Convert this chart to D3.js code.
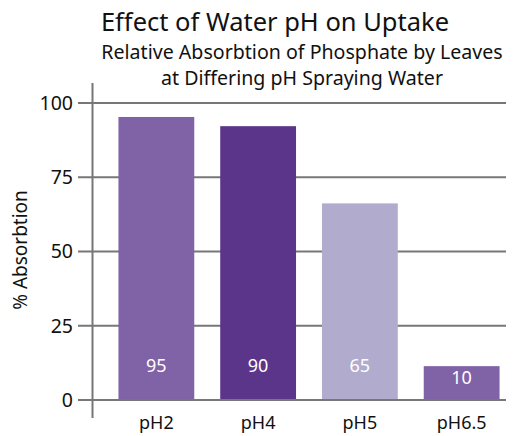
<!DOCTYPE html>
<html>
<head>
<meta charset="utf-8">
<script src="https://cdn.jsdelivr.net/npm/d3@7"></script>
<style>
  html, body { margin: 0; padding: 0; background: #fff; }
  text { font-family: 'Noto Sans', 'Open Sans', sans-serif; }
</style>
</head>
<body>
<div id="chart"></div>
<script>
const categories = ['pH2', 'pH4', 'pH5', 'pH6.5']
// bar heights as drawn, and the numbers printed inside them
const barValues = [95.3, 92.2, 66.2, 11.4]
const labelValues = [95, 90, 65, 10]
const yTicks = [0, 25, 50, 75, 100]
const colors = ['#8062a7', '#5b3589', '#b1abce', '#8062a7']

const width = 513
const height = 436

const svg = d3.select('#chart').append('svg')
  .attr('width', width)
  .attr('height', height)

let x = d3.scaleBand()
  .domain(categories)
  .range([92, 526])
  .paddingInner(0.255)
  .paddingOuter(0.26)

let y = d3.scaleLinear()
  .domain([0, 100])
  .range([400, 103])

// titles
svg.append('text')
  .attr('x', 275)
  .attr('y', 31)
  .attr('text-anchor', 'middle')
  .attr('font-size', 25.5)
  .attr('fill', '#111')
  .text('Effect of Water pH on Uptake')

svg.selectAll('.sub')
  .data(['Relative Absorbtion of Phosphate by Leaves', 'at Differing pH Spraying Water'])
  .enter().append('text')
    .attr('class', 'sub')
    .attr('x', 302)
    .attr('y', (d, i) => 59 + i * 26)
    .attr('text-anchor', 'middle')
    .attr('font-size', 19.6)
    .attr('fill', '#111')
    .text(d => d)

// gridlines + tick marks
let grid = svg.append('g')
  .attr('stroke', '#777')
  .attr('stroke-width', 2)

grid.selectAll('line')
  .data(yTicks)
  .enter().append('line')
    .attr('x1', 78)
    .attr('x2', 506)
    .attr('y1', d => y(d))
    .attr('y2', d => y(d))

svg.append('line')
  .attr('x1', 92.5).attr('x2', 92.5)
  .attr('y1', 83).attr('y2', 418)
  .attr('stroke', '#777')
  .attr('stroke-width', 2)

svg.append('g')
  .selectAll('text')
  .data(yTicks)
  .enter().append('text')
    .attr('x', 73)
    .attr('y', d => y(d))
    .attr('dy', '0.35em')
    .attr('text-anchor', 'end')
    .attr('font-size', 19.5)
    .attr('fill', '#111')
    .text(d => d)

svg.append('text')
  .attr('transform', 'translate(27, 250) rotate(-90)')
  .attr('text-anchor', 'middle')
  .attr('font-size', 19)
  .attr('fill', '#111')
  .text('% Absorbtion')

// bars
let bars = svg.append('g')
  .selectAll('g')
  .data(categories.map((c, i) => ({ cat: c, v: barValues[i], label: labelValues[i], color: colors[i] })))
  .enter().append('g')

bars.append('rect')
  .attr('x', d => x(d.cat))
  .attr('y', d => y(d.v))
  .attr('width', x.bandwidth())
  .attr('height', d => y(0) - y(d.v))
  .attr('fill', d => d.color)

bars.append('text')
  .attr('x', d => x(d.cat) + x.bandwidth() / 2)
  .attr('y', d => Math.max(y(d.v) + 12, 366))
  .attr('dy', '0.35em')
  .attr('text-anchor', 'middle')
  .attr('font-size', 18)
  .attr('fill', '#fff')
  .text(d => d.label)

bars.append('text')
  .attr('x', d => x(d.cat) + x.bandwidth() / 2)
  .attr('y', 429)
  .attr('text-anchor', 'middle')
  .attr('font-size', 18)
  .attr('fill', '#111')
  .text(d => d.cat)

// baseline drawn over bars
svg.append('line')
  .attr('x1', 78).attr('x2', 506)
  .attr('y1', y(0)).attr('y2', y(0))
  .attr('stroke', '#777')
  .attr('stroke-width', 2)
</script>
</body>
</html>
